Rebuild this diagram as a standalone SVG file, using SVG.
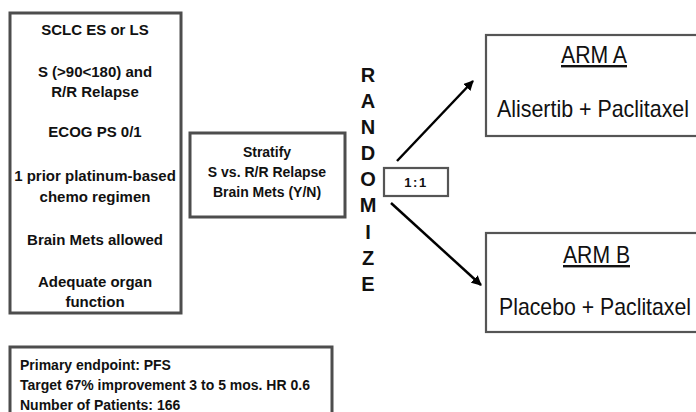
<svg xmlns="http://www.w3.org/2000/svg" width="696" height="412" viewBox="0 0 696 412">
<defs>
<style>
.box{fill:#fff;stroke:#4d4d4d;stroke-width:3}
.thin{fill:#fff;stroke:#555;stroke-width:2.2}
.b{font-family:"Liberation Sans",Arial,sans-serif;font-weight:bold;font-size:15px;fill:#111;text-anchor:middle}
.bl{font-family:"Liberation Sans",Arial,sans-serif;font-weight:bold;font-size:14px;fill:#111}
.r{font-family:"Liberation Sans",Arial,sans-serif;font-weight:bold;font-size:20px;fill:#111;text-anchor:middle}
.arm{font-family:"Liberation Sans",Arial,sans-serif;font-size:24px;fill:#111}
.conn{stroke:#000;stroke-width:2.5;fill:none}
</style>
<marker id="ah" viewBox="0 0 10 10" refX="9" refY="5" markerWidth="4" markerHeight="4" orient="auto" markerUnits="strokeWidth">
<path d="M0,0 L10,5 L0,10 Z" fill="#000"/>
</marker>
</defs>
<rect width="696" height="412" fill="#fff"/>
<g id="eligibility">
<rect class="box" x="10" y="13" width="171" height="300"/>
<text class="b" x="95" y="35">SCLC ES or LS</text>
<text class="b" x="95" y="77">S (&gt;90&lt;180) and</text>
<text class="b" x="95" y="97">R/R Relapse</text>
<text class="b" x="95" y="137">ECOG PS 0/1</text>
<text class="b" x="95" y="181">1 prior platinum-based</text>
<text class="b" x="95" y="202">chemo regimen</text>
<text class="b" x="95" y="245">Brain Mets allowed</text>
<text class="b" x="95" y="287">Adequate organ</text>
<text class="b" x="95" y="307">function</text>
</g>
<g id="stratify">
<rect class="box" x="190" y="133" width="155" height="84"/>
<text class="b" x="267" y="157" style="font-size:14px">Stratify</text>
<text class="b" x="267" y="177" style="font-size:14px">S vs. R/R Relapse</text>
<text class="b" x="267" y="197" style="font-size:14px">Brain Mets (Y/N)</text>
</g>
<g id="randomize">
<text class="r" x="368" y="82">R</text>
<text class="r" x="368" y="108">A</text>
<text class="r" x="368" y="134">N</text>
<text class="r" x="368" y="160">D</text>
<text class="r" x="368" y="186">O</text>
<text class="r" x="368" y="212">M</text>
<text class="r" x="368" y="239">I</text>
<text class="r" x="368" y="265">Z</text>
<text class="r" x="368" y="291">E</text>
</g>
<g id="ratio">
<rect class="thin" x="384" y="168" width="64" height="28"/>
<text class="b" x="416" y="187" style="font-size:13px;letter-spacing:1.5px">1:1</text>
</g>
<g id="armA">
<rect class="thin" x="486" y="35" width="220" height="101"/>
<text class="arm" x="561" y="63" textLength="66" lengthAdjust="spacingAndGlyphs" text-decoration="underline">ARM A</text>
<text class="arm" x="497" y="117" textLength="192" lengthAdjust="spacingAndGlyphs">Alisertib + Paclitaxel</text>
</g>
<g id="armB">
<rect class="thin" x="486" y="233" width="220" height="99"/>
<text class="arm" x="563" y="263" textLength="67" lengthAdjust="spacingAndGlyphs" text-decoration="underline">ARM B</text>
<text class="arm" x="499" y="315" textLength="192" lengthAdjust="spacingAndGlyphs">Placebo + Paclitaxel</text>
</g>
<g id="endpoints">
<rect class="box" x="10" y="347" width="322" height="80"/>
<text class="bl" x="20" y="370">Primary endpoint: PFS</text>
<text class="bl" x="20" y="390">Target 67% improvement 3 to 5 mos. HR 0.6</text>
<text class="bl" x="20" y="410">Number of Patients: 166</text>
</g>
<g id="connectors">
<line class="conn" x1="397" y1="161" x2="473" y2="81" marker-end="url(#ah)"/>
<line class="conn" x1="391" y1="203" x2="481" y2="285" marker-end="url(#ah)"/>
</g>
</svg>
